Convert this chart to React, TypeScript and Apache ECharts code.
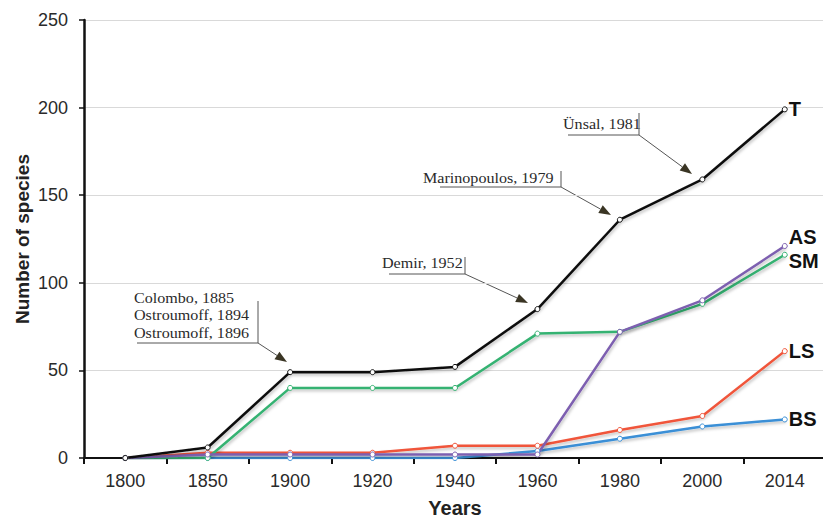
import React, { useEffect, useRef } from "react";
import * as echarts from "echarts";

// ---- data ----
const years = ["1800", "1850", "1900", "1920", "1940", "1960", "1980", "2000", "2014"];
const seriesNames = ["BS", "LS", "SM", "AS", "T"];
const valuesBS = [0, 0, 0, 0, 0, 4, 11, 18, 22];
const valuesLS = [0, 3, 3, 3, 7, 7, 16, 24, 61];
const valuesSM = [0, 0, 40, 40, 40, 71, 72, 88, 116];
const valuesAS = [0, 2, 2, 2, 2, 2, 72, 90, 121];
const valuesT = [0, 6, 49, 49, 52, 85, 136, 159, 199];
const yTicks = { min: 0, max: 250, interval: 50 };
const noteTexts = [
  ["Colombo, 1885", "Ostroumoff, 1894", "Ostroumoff, 1896"],
  ["Demir, 1952"],
  ["Marinopoulos, 1979"],
  ["Ünsal, 1981"],
];

// ---- styling / layout ----
const colors: Record<string, string> = {
  BS: "#3a8fd6",
  LS: "#f0553a",
  SM: "#35b272",
  AS: "#7d5fb0",
  T: "#111111",
};
const labelOffsets: Record<string, number[]> = {
  BS: [0, 0],
  LS: [0, 0],
  SM: [0, 6],
  AS: [0, -9],
  T: [0, 0],
};
const noteLayout = [
  { tx: 134, ty: 298, vx: 258, vTop: 301, hy: 343, hx0: 137, tip: [287, 362] },
  { tx: 382, ty: 263, vx: 465, vTop: 257, hy: 274, hx0: 389, tip: [528, 303] },
  { tx: 423, ty: 178, vx: 561, vTop: 171, hy: 187, hx0: 440, tip: [611, 215] },
  { tx: 563, ty: 124, vx: 639, vTop: 113, hy: 135, hx0: 568, tip: [692, 174] },
];

function buildGraphics() {
  const els: any[] = [];
  const lineColor = "#555";
  const arrowColor = "#3a3524";
  noteTexts.forEach((lines, i) => {
    const L = noteLayout[i];
    lines.forEach((t, j) => {
      els.push({
        type: "text",
        x: L.tx,
        y: L.ty + j * 17.5,
        scaleX: 1.15,
        style: {
          text: t,
          fontFamily: "Liberation Serif",
          fontSize: 14,
          fill: "#2a2a2a",
          verticalAlign: "middle",
          align: "left",
        },
        silent: true,
      });
    });
    els.push({
      type: "line",
      shape: { x1: L.vx, y1: L.vTop, x2: L.vx, y2: L.hy },
      style: { stroke: lineColor, lineWidth: 1 },
      silent: true,
    });
    els.push({
      type: "line",
      shape: { x1: L.hx0, y1: L.hy, x2: L.vx, y2: L.hy },
      style: { stroke: lineColor, lineWidth: 1 },
      silent: true,
    });
    const [tx, ty] = L.tip;
    const dx = tx - L.vx;
    const dy = ty - L.hy;
    const len = Math.sqrt(dx * dx + dy * dy);
    const ux = dx / len;
    const uy = dy / len;
    const AL = 12;
    const AW = 9;
    const bx = tx - ux * AL;
    const by = ty - uy * AL;
    els.push({
      type: "line",
      shape: { x1: L.vx, y1: L.hy, x2: bx, y2: by },
      style: { stroke: lineColor, lineWidth: 1 },
      silent: true,
    });
    els.push({
      type: "polygon",
      shape: {
        points: [
          [tx, ty],
          [bx - uy * AW / 2, by + ux * AW / 2],
          [bx + uy * AW / 2, by - ux * AW / 2],
        ],
      },
      style: { fill: arrowColor },
      silent: true,
    });
  });
  return els;
}

const dataByName: Record<string, number[]> = {
  BS: valuesBS,
  LS: valuesLS,
  SM: valuesSM,
  AS: valuesAS,
  T: valuesT,
};

export default function App() {
  const ref = useRef<HTMLDivElement>(null);
  useEffect(() => {
    if (!ref.current) return;
    const chart = echarts.init(ref.current, null, { renderer: "svg" });
    const font = "Liberation Sans, Arial, sans-serif";
    chart.setOption({
      animation: false,
      backgroundColor: "#ffffff",
      grid: { left: 84, top: 20, width: 742, height: 438, outerBoundsMode: "none", containLabel: false },
      xAxis: {
        type: "category",
        data: years,
        boundaryGap: true,
        name: "Years",
        nameLocation: "middle",
        nameGap: 40,
        nameMoveOverlap: false,
        nameTextStyle: { fontFamily: font, fontWeight: "bold", fontSize: 20, color: "#222" },
        axisLine: { show: true, lineStyle: { color: "#111", width: 2 } },
        axisTick: { show: true, length: 6, lineStyle: { color: "#111", width: 2 } },
        axisLabel: { fontFamily: font, fontSize: 18, color: "#2a2a2a", margin: 14 },
        splitLine: { show: false },
      },
      yAxis: {
        type: "value",
        min: yTicks.min,
        max: yTicks.max,
        interval: yTicks.interval,
        name: "Number of species",
        nameLocation: "middle",
        nameRotate: 90,
        nameGap: 52,
        nameMoveOverlap: false,
        nameTextStyle: { fontFamily: font, fontWeight: "bold", fontSize: 19, color: "#222" },
        axisLine: { show: true, lineStyle: { color: "#111", width: 2.5 } },
        axisTick: { show: true, length: 5, lineStyle: { color: "#111", width: 1.5 } },
        axisLabel: { fontFamily: font, fontSize: 18, color: "#2a2a2a", margin: 16 },
        splitLine: { show: true, lineStyle: { color: "#d9d9d9", width: 1 } },
      },
      series: seriesNames.map((n) => ({
        name: n,
        type: "line",
        data: dataByName[n],
        symbol: "circle",
        symbolSize: 5,
        showSymbol: true,
        lineStyle: {
          color: colors[n],
          width: 2.5,
          shadowColor: "rgba(0,0,0,0.25)",
          shadowBlur: 3,
          shadowOffsetX: 1,
          shadowOffsetY: 2,
        },
        itemStyle: { color: "#ffffff", borderColor: colors[n], borderWidth: 1 },
        endLabel: {
          show: true,
          formatter: n,
          fontFamily: font,
          fontWeight: "bold",
          fontSize: 20,
          color: "#111",
          offset: labelOffsets[n],
          distance: 4,
        },
        emphasis: { disabled: true },
        z: 2,
      })),
      graphic: buildGraphics(),
    });
    return () => chart.dispose();
  }, []);
  return (
    <div
      ref={ref}
      style={{ position: "fixed", left: 0, top: 0, width: 823, height: 519, background: "#fff" }}
    />
  );
}
